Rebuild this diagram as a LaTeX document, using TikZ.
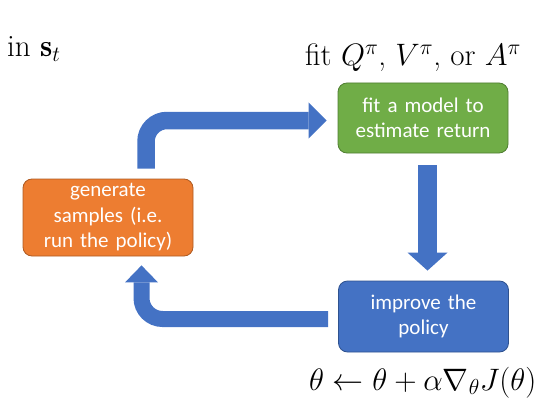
\RequirePackage{fix-cm}
\documentclass[tikz,border=0pt]{standalone}
\usepackage{fontspec}
\newfontfamily\boxfont{Carlito}
\usetikzlibrary{arrows.meta,calc}
\definecolor{ogreen}{HTML}{70AD47}
\definecolor{ogreenb}{HTML}{507E32}
\definecolor{oorange}{HTML}{ED7D31}
\definecolor{oorangeb}{HTML}{AE5A21}
\definecolor{oblue}{HTML}{4472C4}
\definecolor{oblueb}{HTML}{2F528F}
\tikzset{
  stepbox/.style={rounded corners=9pt, line width=0.8pt, minimum width=170pt, text width=165pt,
    align=center, text=white, inner sep=0pt,
    font=\boxfont\fontsize{21}{25.5}\selectfont},
  bigarrow/.style={draw=oblue, line width=17pt, rounded corners=21pt},
  mathlabel/.style={inner sep=0pt, anchor=base west, font=\fontsize{31}{36}\selectfont}
}
\begin{document}
\begin{tikzpicture}[x=1pt,y=-1pt]
\useasboundingbox (0,0) rectangle (560,420);
\node[stepbox, fill=ogreen, draw=ogreenb, minimum height=70pt] (fit) at (423,118) {fit a model to\\estimate return};
\node[stepbox, fill=oorange, draw=oorangeb, minimum height=77pt] (gen) at (108,217.5) {generate\\samples (i.e.\\run the policy)};
\node[stepbox, fill=oblue, draw=oblueb, minimum height=71pt] (imp) at (423.5,316.5) {improve the\\policy};
\node[mathlabel] (st) at (7,57) {in $\mathbf{s}_t$};
\node[mathlabel] (fitq) at (305,66) {fit $Q^\pi$, $V^\pi$, or $A^\pi$};
\node[mathlabel] (upd) at (309,390) {$\theta \leftarrow \theta + \alpha \nabla_\theta J(\theta)$};
\draw[bigarrow, line width=17.5pt, -{Triangle[length=18pt,width=36pt,line width=0pt]}]
  ([xshift=38pt,yshift=10pt]gen.north) |- ([xshift=-11pt,yshift=-2.5pt]fit.west);
\draw[bigarrow, line width=19pt, -{Triangle[length=18pt,width=40pt,line width=0pt]}]
  ([xshift=4.5pt,yshift=-12pt]fit.south) -- ([xshift=4pt,yshift=10pt]imp.north);
\draw[bigarrow, line width=16pt, -{Triangle[length=17pt,width=33pt,line width=0pt]}]
  ([xshift=-10pt,yshift=-2.5pt]imp.west) -| ([xshift=33.5pt,yshift=-9pt]gen.south);
\end{tikzpicture}
\end{document}
